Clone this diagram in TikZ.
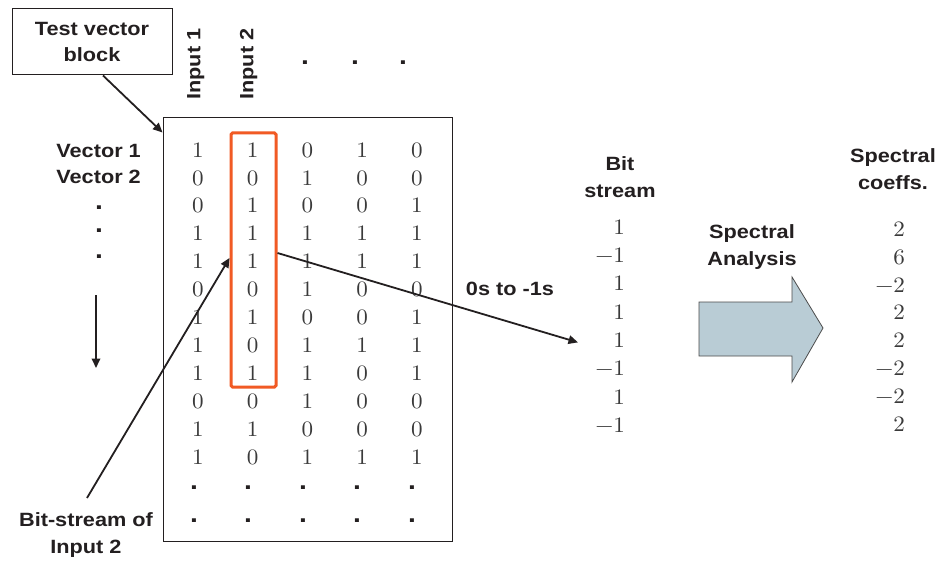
\documentclass[tikz,border=0pt]{standalone}
\usepackage{fontspec}
\setsansfont{Liberation Sans}[FakeStretch=1.13]
\newfontfamily\digitfont{lmroman10-regular}[Extension=.otf, FakeStretch=1.05]
\usetikzlibrary{arrows.meta,calc}
\definecolor{ink}{HTML}{231F20}
\definecolor{digitgray}{HTML}{3A3A3A}
\definecolor{hot}{HTML}{F15A24}
\definecolor{arrowfill}{HTML}{B9CCD5}
\tikzset{
  lab/.style={font=\sffamily\bfseries\fontsize{19.2}{26.8}\selectfont, text=ink, inner sep=0, align=center},
  dot/.style={font=\sffamily\bfseries\fontsize{25}{26}\selectfont, text=ink, inner sep=0},
  num/.style={font=\digitfont\fontsize{22}{26}\selectfont, text=digitgray, inner sep=0},
  conn/.style={draw=ink, line width=1.8, -{Triangle[length=9.5pt,width=8.5pt]}},
  frame/.style={draw=ink, line width=1, inner sep=0},
}
\begin{document}
\begin{tikzpicture}[x=1pt,y=-1pt]
\fill[white] (0,0) rectangle (942,561);
\useasboundingbox (0,0) rectangle (942,561);

% test vector block caption
\node[lab, frame, minimum width=160, minimum height=66] (tvb) at (92,42) {Test vector\\block};

% column headers
\node[lab, rotate=90, anchor=base west] (in1) at (200.3,100) {Input 1};
\node[lab, rotate=90, anchor=base west] (in2) at (253.3,100) {Input 2};
\foreach \x [count=\i] in {305,355,403}
  \node[dot, anchor=base] (hd\i) at (\x,65) {.};

% row labels
\node[lab, anchor=base east] (v1) at (141,157.3) {Vector 1};
\node[lab, anchor=base east] (v2) at (141,184) {Vector 2};
\foreach \y [count=\i] in {208,231,257}
  \node[dot, anchor=base] (vd\i) at (99,\y+2) {.};
\coordinate (dn0) at (96,295);
\coordinate (dn1) at (96,368);
\draw[conn] (dn0) -- (dn1);

% matrix of test vectors
\node[frame, minimum width=289, minimum height=423] (mat) at (307.5,329.5) {};
\foreach \row [count=\r] in {{1,1,0,1,0},{0,0,1,0,0},{0,1,0,0,1},{1,1,1,1,1},
    {1,1,1,1,1},{0,0,1,0,0},{1,1,0,0,1},{1,0,1,1,1},{1,1,1,0,1},{0,0,1,0,0},
    {1,1,0,0,0},{1,0,1,1,1}}
  \foreach \v [count=\c] in \row
    \node[num, anchor=base] (m-\r-\c) at ({198+54.75*(\c-1)},{157.2+27.9*(\r-1)}) {\v};
\foreach \x [count=\c] in {194,248,303,357,412} {
  \node[dot, anchor=base] (md1-\c) at (\x,489) {.};
  \node[dot, anchor=base] (md2-\c) at (\x,522) {.};
}

% selected column
\node[draw=hot, line width=3, rounded corners=1.5, minimum width=45, minimum height=254, inner sep=0] (sel) at (253.5,260) {};

% bit-stream caption
\node[lab, anchor=north] (bsl) at (86,512.5) {Bit-stream of\\Input 2};

% bit stream column
\node[lab, anchor=north] (bsh) at (620,156.5) {Bit\\stream};
\foreach \v [count=\i] in {1,−1,1,1,1,−1,1,−1}
  \node[num, anchor=base east] (bs\i) at (625,{234.2+28.3*(\i-1)}) {\v};
\node[lab, anchor=base] (conv) at (510,295.7) {0s to -1s};

% spectral analysis
\node[lab, anchor=north] (sa) at (752,224.8) {Spectral\\Analysis};
\path[fill=arrowfill, draw=black!70, line width=0.8]
  (699,302) -- (792,302) -- (792,277) -- (823,328) -- (792,382) -- (792,356) -- (699,356) -- cycle;

% spectral coefficients
\node[lab, anchor=north] (sch) at (893,148.8) {Spectral\\coeffs.};
\foreach \v [count=\i] in {2,6,−2,2,2,−2,−2,2}
  \node[num, anchor=base east] (sc\i) at (905,{236.2+27.9*(\i-1)}) {\v};

% connectors
\draw[conn] ($(tvb.south)+(11,0)$) -- ($(mat.north west)+(0,15)$);
\draw[conn] ($(bsl.north)+(1,-14.5)$) -- ($(sel.west)+(0,-2)$);
\draw[conn] ($(sel.east)+(0,-7)$) -- ($(bs5.base east)+(-47,-5)$);
\end{tikzpicture}
\end{document}
